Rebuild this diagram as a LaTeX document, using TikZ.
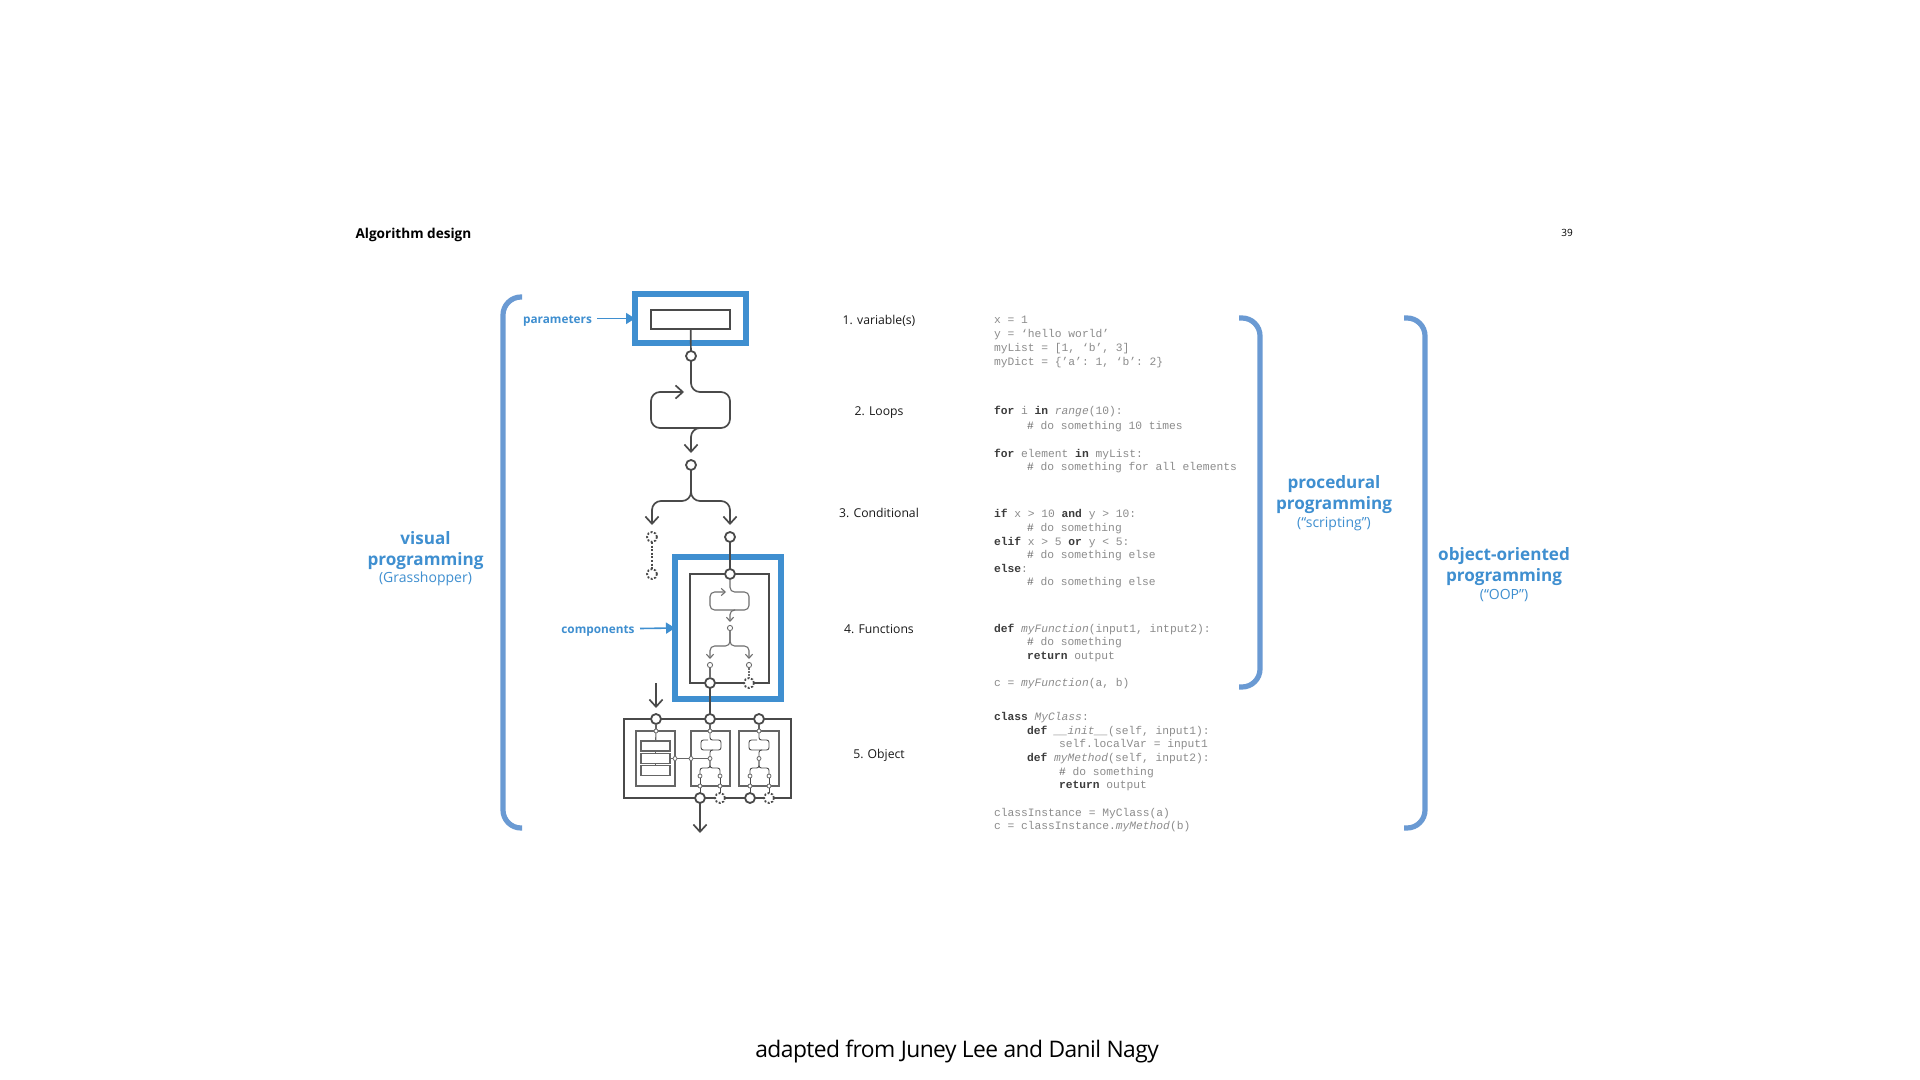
\documentclass[tikz,border=0pt]{standalone}
\usepackage{fontspec}
\setmainfont{Open Sans}
\setmonofont{Liberation Mono}
\newfontfamily\footfont[LetterSpace=-2.4]{Open Sans}
\usetikzlibrary{arrows.meta}
\definecolor{flow}{HTML}{4A4A4A}
\definecolor{blueA}{HTML}{3F8FD0}
\definecolor{brack}{HTML}{6A9AD3}
\definecolor{codeg}{HTML}{8C8C8C}
\definecolor{coded}{HTML}{3C3C3C}
\definecolor{codeh}{HTML}{666666}
\newcommand{\kw}[1]{\textcolor{coded}{\bfseries #1}}
\newcommand{\hs}{\textcolor{codeh}{\#}}
\tikzset{
  x=.5pt,y=-.5pt,
  every node/.style={inner sep=0pt,outer sep=0pt},
  flowline/.style={draw=flow,line width=.85pt,rounded corners=4.5pt},
  miniline/.style={draw=flow!80,line width=.55pt,rounded corners=2.3pt},
  microline/.style={draw=flow,line width=.45pt,rounded corners=1.2pt},
  barb/.style={-{Straight Barb[length=3.6pt,width=6.6pt]}},
  minibarb/.style={-{Straight Barb[length=2pt,width=3.6pt]}},
  pin/.style={circle,draw=flow,fill=white,line width=.9pt,minimum size=5pt},
  pindash/.style={pin,dash pattern=on 1pt off .8pt},
  minipin/.style={circle,draw=flow!80,fill=white,line width=.45pt,minimum size=2.6pt},
  micropin/.style={circle,draw=flow!80,fill=white,line width=.4pt,minimum size=2pt},
  bluebox/.style={draw=blueA,line width=2.7pt},
  darkbox/.style={draw=flow,line width=.9pt},
  greybox/.style={draw=flow!85,line width=.55pt},
  bracket/.style={draw=brack,line width=2.6pt,rounded corners=9pt},
  bluearrow/.style={draw=blueA,line width=.8pt,-{Triangle[length=4.5pt,width=5.5pt]}},
  bluetag/.style={text=blueA,font=\bfseries\fontsize{5.9}{7}\selectfont,anchor=base},
  title/.style={text=blueA,font=\bfseries\fontsize{8.55}{10}\selectfont,anchor=base},
  subtitle/.style={text=blueA,font=\fontsize{7}{8}\selectfont,anchor=base},
  stage/.style={font=\fontsize{6.1}{7}\selectfont,anchor=base,text=black!90},
  codeline/.style={font=\ttfamily\fontsize{5.64}{7}\selectfont,text=codeg,anchor=base west},
}
\begin{document}
\begin{tikzpicture}
\useasboundingbox[fill=white] (0,0) rectangle (1920,1080);

% header and footer
\node[anchor=base west,font=\bfseries\fontsize{6.8}{8}\selectfont] (head) at (355.5,239) {Algorithm design};
\node[anchor=base,font=\fontsize{5}{6}\selectfont] (page) at (1567,237) {39};
\node[anchor=base,font=\footfont\fontsize{11.4}{13}\selectfont] (foot) at (957,1057) {adapted from Juney Lee and Danil Nagy};

% brackets
\draw[bracket] (522,297) -- (503,297) -- (503,828) -- (522,828);
\draw[bracket] (1239,318) -- (1260,318) -- (1260,687) -- (1239,687);
\draw[bracket] (1404,318) -- (1425,318) -- (1425,828) -- (1404,828);

% blue highlight boxes
\node[bluebox,minimum width=55.5pt,minimum height=24.5pt] (boxA) at (690.5,318.5) {};
\node[bluebox,minimum width=53pt,minimum height=71pt] (boxB) at (728,628) {};
\coordinate (tagA) at (597,318.5);
\coordinate (tagB) at (640,628.5);
\draw[bluearrow] (tagA) -- (boxA.west);
\draw[bluearrow] (tagB) -- (boxB.west);
\node[bluetag] (parameters) at (557.5,323.5) {parameters};
\node[bluetag] (components) at (598,633) {components};

% big flow
\node[darkbox,minimum width=39.5pt,minimum height=9.5pt] (param) at (690.5,319.5) {};
\node[pin] (p1) at (691,356) {};
\node[pin] (p2) at (691,465) {};
\node[pindash] (p3) at (652,537) {};
\node[pin] (p4) at (730,537) {};
\node[pindash] (p5) at (652,574) {};
\draw[flowline] (param) -- (p1);
\draw[flowline,barb] (p1) -- (691,392) -- (730,392) -- (730,428) -- (651,428) -- (651,392) -- (684,392);
\coordinate (loopout) at (702,428);
\draw[flowline,barb] (loopout) -- (691,428) -- (691,453);
\draw[flowline,barb] (p2) -- (691,501) -- (652,501) -- (652,525);
\draw[flowline,barb] (p2) -- (691,501) -- (730,501) -- (730,525);
\draw[draw=flow,line width=.8pt,dash pattern=on 1pt off .8pt] (p3) -- (p5);

% component box
\node[darkbox,minimum width=39.5pt,minimum height=54.5pt] (func) at (729.5,628.5) {};
\draw[flowline] (p4) -- (730,574);
\node[pin] (f1) at (730,574) {};
\node[minipin] (f2) at (730,628) {};
\node[minipin] (f3) at (710,665) {};
\node[minipin] (f4) at (749,665) {};
\node[pin] (f5) at (710,683) {};
\node[pindash] (f6) at (749,683) {};
\draw[miniline,minibarb] (f1) -- (730,592) -- (749,592) -- (749,610) -- (710,610) -- (710,592) -- (726,592);
\coordinate (miniout) at (735,610);
\draw[miniline,minibarb] (miniout) -- (730,610) -- (730,622);
\draw[miniline,minibarb] (f2) -- (730,646) -- (710,646) -- (710,659);
\draw[miniline,minibarb] (f2) -- (730,646) -- (749,646) -- (749,659);
\draw[miniline] (f3) -- (f5);
\draw[draw=flow!80,line width=.55pt,dash pattern=on 1pt off .6pt] (f4) -- (f6);

% object box
\node[darkbox,minimum width=83.5pt,minimum height=39.5pt] (obj) at (707.5,758.5) {};
\node[pin] (o1) at (656,719) {};
\node[pin] (o2) at (710,719) {};
\node[pin] (o3) at (759,719) {};
\node[pin] (o4) at (700,798) {};
\node[pindash] (o5) at (720,798) {};
\node[pin] (o6) at (750,798) {};
\node[pindash] (o7) at (769,798) {};
\coordinate (objin) at (656,683);
\coordinate (objout) at (700,833);
\draw[flowline,barb] (objin) -- (656,708);
\draw[flowline] (f5) -- (o2);
\draw[flowline,barb] (o4) -- (objout);
% object inner boxes
\node[greybox,minimum width=19.5pt,minimum height=27.5pt] (b1) at (655.5,758.5) {};
\node[greybox,minimum width=19.5pt,minimum height=27.5pt] (b2) at (710.5,758.5) {};
\node[greybox,minimum width=20pt,minimum height=27.5pt] (b3) at (759,758.5) {};
\node[greybox,minimum width=14.5pt,minimum height=5pt] (r1) at (655.5,746) {};
\node[greybox,minimum width=14.5pt,minimum height=5pt] (r2) at (655.5,758.5) {};
\node[greybox,minimum width=14.5pt,minimum height=5pt] (r3) at (655.5,770.5) {};
\node[micropin] (m1) at (656,731) {};
\node[micropin] (m2) at (710,731) {};
\node[micropin] (m3) at (759,731) {};
\node[micropin] (m4) at (675,758.5) {};
\node[micropin] (m5) at (691,758.5) {};
\draw[greybox] (o1) -- (m1);
\draw[greybox] (o2) -- (m2);
\draw[greybox] (o3) -- (m3);
\draw[greybox] (m1) -- (r1);
\draw[greybox] (r1) -- (r2);
\draw[greybox] (r2) -- (r3);
\draw[greybox] (r2) -- (m4);
\draw[greybox] (m4) -- (m5);
% object: second box flow
\node[micropin] (s1) at (710,758.5) {};
\node[micropin] (s2) at (700,776) {};
\node[micropin] (s3) at (720,776) {};
\node[micropin] (s4) at (700,786) {};
\node[micropin] (s5) at (720,786) {};
\draw[greybox] (m5) -- (s1);
\draw[microline] (m2) -- (710,740) -- (721,740) -- (721,750) -- (701,750) -- (701,740) -- (708,740);
\coordinate (sout) at (713,750);
\draw[microline] (sout) -- (710,750) -- (s1);
\draw[microline] (s1) -- (710,768) -- (700,768) -- (s2);
\draw[microline] (s1) -- (710,768) -- (720,768) -- (s3);
\draw[microline] (s2) -- (s4);
\draw[microline] (s3) -- (s5);
\draw[microline] (s4) -- (o4);
\draw[microline] (s5) -- (o5);
% object: third box flow
\node[micropin] (t1) at (759,758.5) {};
\node[micropin] (t2) at (750,776) {};
\node[micropin] (t3) at (769,776) {};
\node[micropin] (t4) at (750,786) {};
\node[micropin] (t5) at (769,786) {};
\draw[microline] (m3) -- (759,740) -- (769,740) -- (769,750) -- (749,750) -- (749,740) -- (757,740);
\coordinate (tout) at (762,750);
\draw[microline] (tout) -- (759,750) -- (t1);
\draw[microline] (t1) -- (759,768) -- (750,768) -- (t2);
\draw[microline] (t1) -- (759,768) -- (769,768) -- (t3);
\draw[microline] (t2) -- (t4);
\draw[microline] (t3) -- (t5);
\draw[microline] (t4) -- (o6);
\draw[microline] (t5) -- (o7);

% stage labels
\node[stage] (st1) at (879,325) {1. variable(s)};
\node[stage] (st2) at (879,415.5) {2. Loops};
\node[stage] (st3) at (879,517) {3. Conditional};
\node[stage] (st4) at (879,633) {4. Functions};
\node[stage] (st5) at (879,758) {5. Object};

% side titles
\node[title] (va) at (425.5,544) {visual};
\node[title] (vb) at (425.5,565) {programming};
\node[subtitle] (vc) at (425.5,582) {(Grasshopper)};
\node[title] (pa) at (1334,488) {procedural};
\node[title] (pb) at (1334,509) {programming};
\node[subtitle] (pc) at (1334,527) {(“scripting”)};
\node[title] (oa) at (1504,560) {object-oriented};
\node[title] (ob) at (1504,581) {programming};
\node[subtitle] (oc) at (1504,599) {(“OOP”)};

% code
\node[codeline] (c01) at (994,324) {x = 1};
\node[codeline] (c02) at (994,338) {y = ‘hello world’};
\node[codeline] (c03) at (994,351) {myList = [1, ‘b’, 3]};
\node[codeline] (c04) at (994,365) {myDict = \{’a’: 1, ‘b’: 2\}};
\node[codeline] (c05) at (994,415) {\kw{for} i \kw{in} \textit{range}(10):};
\node[codeline] (c06) at (1027,429) {\hs{} do something 10 times};
\node[codeline] (c07) at (994,457) {\kw{for} element \kw{in} myList:};
\node[codeline] (c08) at (1027,470) {\hs{} do something for all elements};
\node[codeline] (c09) at (994,517) {\kw{if} x > 10 \kw{and} y > 10:};
\node[codeline] (c10) at (1027,531) {\hs{} do something};
\node[codeline] (c11) at (994,545) {\kw{elif} x > 5 \kw{or} y < 5:};
\node[codeline] (c12) at (1027,558) {\hs{} do something else};
\node[codeline] (c13) at (994,572) {\kw{else}:};
\node[codeline] (c14) at (1027,585) {\hs{} do something else};
\node[codeline] (c15) at (994,632) {\kw{def} \textit{myFunction}(input1, intput2):};
\node[codeline] (c16) at (1027,645) {\hs{} do something};
\node[codeline] (c17) at (1027,659) {\kw{return} output};
\node[codeline] (c18) at (994,686) {c = \textit{myFunction}(a, b)};
\node[codeline] (c19) at (994,720) {\kw{class} \textit{MyClass}:};
\node[codeline] (c20) at (1027,734) {\kw{def} \textit{\_\_init\_\_}(self, input1):};
\node[codeline] (c21) at (1059,747) {self.localVar = input1};
\node[codeline] (c22) at (1027,761) {\kw{def} \textit{myMethod}(self, input2):};
\node[codeline] (c23) at (1059,775) {\hs{} do something};
\node[codeline] (c24) at (1059,788) {\kw{return} output};
\node[codeline] (c25) at (994,816) {classInstance = MyClass(a)};
\node[codeline] (c26) at (994,829) {c = classInstance.\textit{myMethod}(b)};
\end{tikzpicture}
\end{document}
